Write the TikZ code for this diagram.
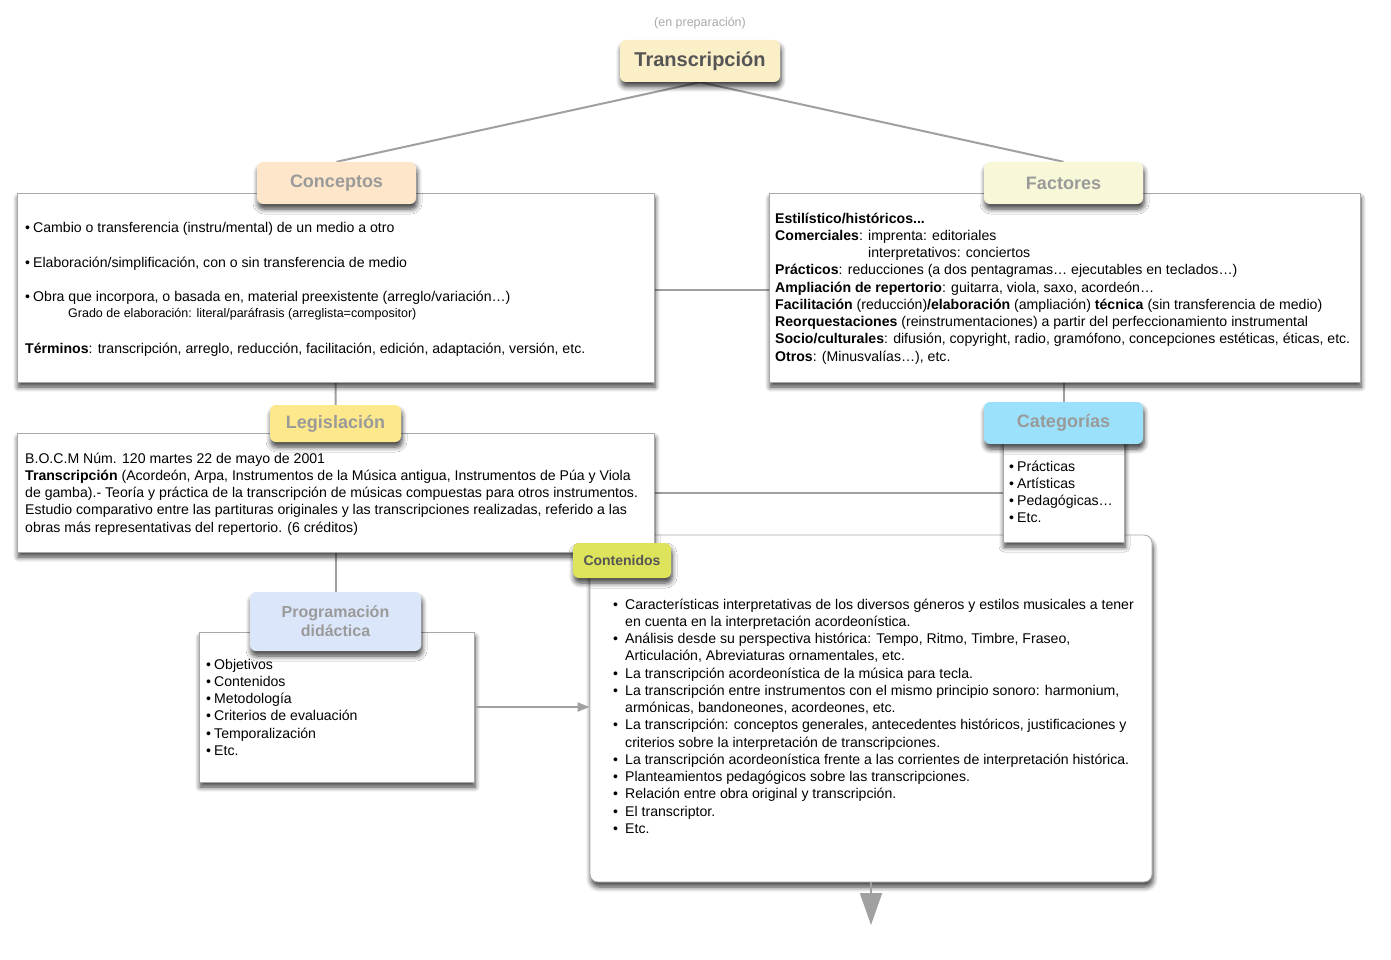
\documentclass[tikz,border=0pt]{standalone}
\usepackage{fontspec}
\setmainfont{Liberation Sans}
\usetikzlibrary{shadows,shadows.blur,arrows.meta,calc}
\pgfdeclarelayer{background}
\pgfsetlayers{background,main}
\definecolor{ctrans}{HTML}{FBEFC8}
\definecolor{cconc}{HTML}{FDE6C9}
\definecolor{cfact}{HTML}{F8F8D9}
\definecolor{cleg}{HTML}{FDE88C}
\definecolor{ccat}{HTML}{9CE1FB}
\definecolor{cprog}{HTML}{DCE6FA}
\definecolor{ccont}{HTML}{DDE35A}
\definecolor{labgray}{HTML}{9A9A9A}
\definecolor{darkgray}{HTML}{555555}
\definecolor{boxgray}{HTML}{A8A8A8}
\definecolor{linegray}{HTML}{A0A0A0}
\definecolor{prepgray}{HTML}{AAAAAA}
\newcommand{\blt}{\makebox[8pt][l]{•}}
\newcommand{\cblt}{\makebox[12pt][l]{•}}
\begin{document}
\begin{tikzpicture}[x=1pt,y=-1pt,
  shad/.style={blur shadow={shadow xshift=1pt, shadow yshift=-5pt,
    shadow blur radius=5pt, shadow blur steps=6, shadow opacity=75}},
  box/.style={draw=boxgray, line width=0.8pt, fill=white, inner sep=0, shad},
  lab/.style={rounded corners=6pt, inner sep=0, text=labgray, align=center,
    font=\bfseries\fontsize{18}{20}\selectfont, shad},
  txt/.style={anchor=base west, align=left, inner sep=0,
    font=\fontsize{14.1}{17.25}\selectfont},
  conn/.style={draw=linegray, line width=2pt},
  arr/.style={draw=linegray, line width=2pt, -{Triangle[width=9pt,length=12pt]}},
  bigarr/.style={draw=linegray, line width=2pt, -{Triangle[width=22pt,length=32pt]}}
]
\useasboundingbox (0,0) rectangle (1391,960);

\node[text=prepgray, font=\fontsize{12.5}{14}\selectfont] (prep) at (700,23) {(en preparación)};
\node[lab, fill=ctrans, text=darkgray, minimum width=160, minimum height=42,
  font=\bfseries\fontsize{20}{22}\selectfont] (trans) at (700,61) {Transcripción};

% Conceptos
\node[box, minimum width=637, minimum height=189] (conb) at (335.5,287.5) {};
\node[lab, fill=cconc, minimum width=159, minimum height=42] (concl) at (336.5,183) {Conceptos};
\node[txt] (c1) at (25,232) {\blt Cambio o transferencia (instru/mental) de un medio a otro};
\node[txt] (c2) at (25,267) {\blt Elaboración/simplificación, con o sin transferencia de medio};
\node[txt] (c3) at (25,301) {\blt Obra que incorpora, o basada en, material preexistente (arreglo/variación…)};
\node[txt, font=\fontsize{12.5}{14}\selectfont] (c4) at (68,317) {Grado de elaboración: literal/paráfrasis (arreglista=compositor)};
\node[txt] (c5) at (25,353) {\textbf{Términos}: transcripción, arreglo, reducción, facilitación, edición, adaptación, versión, etc.};

% Factores
\node[box, minimum width=591, minimum height=189] (factb) at (1064.5,287.5) {};
\node[lab, fill=cfact, minimum width=159, minimum height=42] (factl) at (1063.5,183) {Factores};
\node[txt] (f1) at (775,361) {\textbf{Estilístico/históricos...}\\
\textbf{Comerciales}: imprenta: editoriales\\
\phantom{\textbf{Comerciales}: }interpretativos: conciertos\\
\textbf{Prácticos}: reducciones (a dos pentagramas… ejecutables en teclados…)\\
\textbf{Ampliación de repertorio}: guitarra, viola, saxo, acordeón…\\
\textbf{Facilitación} (reducción)\textbf{/elaboración} (ampliación) \textbf{técnica} (sin transferencia de medio)\\
\textbf{Reorquestaciones} (reinstrumentaciones) a partir del perfeccionamiento instrumental\\
\textbf{Socio/culturales}: difusión, copyright, radio, gramófono, concepciones estéticas, éticas, etc.\\
\textbf{Otros}: (Minusvalías…), etc.};

% Contenidos box (below Legislacion and Categorias)
\node[box, rounded corners=8pt, minimum width=562, minimum height=347] (contb) at (871,708.5) {};
\node[txt] (k1) at (613,833.25) {\cblt Características interpretativas de los diversos géneros y estilos musicales a tener\\
\hspace*{12pt}en cuenta en la interpretación acordeonística.\\
\cblt Análisis desde su perspectiva histórica: Tempo, Ritmo, Timbre, Fraseo,\\
\hspace*{12pt}Articulación, Abreviaturas ornamentales, etc.\\
\cblt La transcripción acordeonística de la música para tecla.\\
\cblt La transcripción entre instrumentos con el mismo principio sonoro: harmonium,\\
\hspace*{12pt}armónicas, bandoneones, acordeones, etc.\\
\cblt La transcripción: conceptos generales, antecedentes históricos, justificaciones y\\
\hspace*{12pt}criterios sobre la interpretación de transcripciones.\\
\cblt La transcripción acordeonística frente a las corrientes de interpretación histórica.\\
\cblt Planteamientos pedagógicos sobre las transcripciones.\\
\cblt Relación entre obra original y transcripción.\\
\cblt El transcriptor.\\
\cblt Etc.};

% Legislacion
\node[box, minimum width=637, minimum height=119] (legb) at (335.5,492.5) {};
\node[lab, fill=cleg, minimum width=131, minimum height=37] (legl) at (335.5,423.5) {Legislación};
\node[txt] (l1) at (25,532) {B.O.C.M Núm. 120 martes 22 de mayo de 2001\\
\textbf{Transcripción} (Acordeón, Arpa, Instrumentos de la Música antigua, Instrumentos de Púa y Viola\\
de gamba).- Teoría y práctica de la transcripción de músicas compuestas para otros instrumentos.\\
Estudio comparativo entre las partituras originales y las transcripciones realizadas, referido a las\\
obras más representativas del repertorio. (6 créditos)};

% Categorias
\node[box, minimum width=121, minimum height=104] (catb) at (1063.5,490) {};
\node[lab, fill=ccat, minimum width=159, minimum height=42] (catl) at (1063.5,423) {Categorías};
\node[txt] (g1) at (1009,522.75) {\blt Prácticas\\ \blt Artísticas\\ \blt Pedagógicas…\\ \blt Etc.};

\node[lab, fill=ccont, text=darkgray, minimum width=98, minimum height=35,
  font=\bfseries\fontsize{14}{16}\selectfont] (contl) at (622,560.5) {Contenidos};

% Programacion
\node[box, minimum width=275, minimum height=150] (progb) at (336.5,707) {};
\node[lab, fill=cprog, minimum width=171, minimum height=59,
  font=\bfseries\fontsize{16}{19}\selectfont] (progl) at (335.5,621.5) {Programación\\didáctica};
\node[txt] (p1) at (206,755.25) {\blt Objetivos\\ \blt Contenidos\\ \blt Metodología\\ \blt Criterios de evaluación\\ \blt Temporalización\\ \blt Etc.};

\coordinate (endp) at (871,925);

\begin{pgfonlayer}{background}
\draw[conn] (trans.south) -- (concl.north);
\draw[conn] (trans.south) -- (factl.north);
\draw[conn] ([yshift=-2.5pt]conb.east) -- ([yshift=-2.5pt]factb.west);
\draw[conn] (concl.south) -- (legl.north);
\draw[conn] (legl.south) -- (progl.north);
\draw[conn] (factl.south) -- (catl.north);
\draw[conn] (legb.east) -- (legb.east -| catb.west);
\end{pgfonlayer}
\draw[arr] (progb.east) -- (progb.east -| contb.west);
\draw[bigarr] (contb.south) -- (endp);
\end{tikzpicture}
\end{document}
